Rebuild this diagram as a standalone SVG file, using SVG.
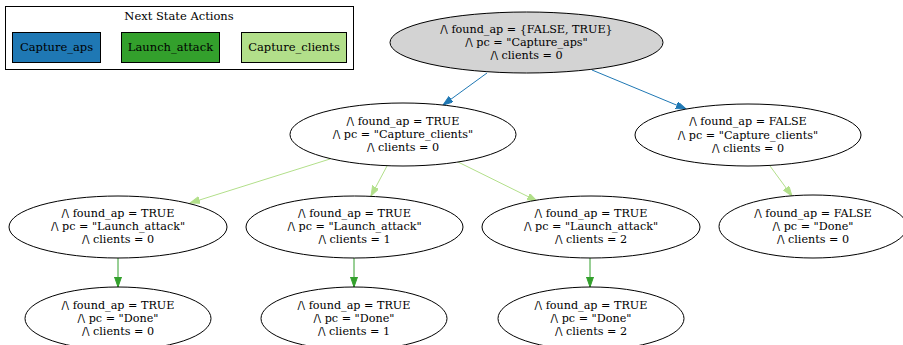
<svg xmlns="http://www.w3.org/2000/svg" width="903" height="345" viewBox="0 0 903 345">
<style>
text{font-family:"DejaVu Serif","Liberation Serif",serif;font-size:11.2px;fill:#000;text-anchor:middle}
.n{fill:#fff;stroke:#000;stroke-width:1}
.e{fill:none;stroke-width:1}
.b{stroke:#1f78b4}.lg{stroke:#b2df8a}.g{stroke:#33a02c}
</style>
<defs>
<marker id="ab" markerUnits="userSpaceOnUse" markerWidth="12" markerHeight="10" refX="10" refY="3.5" orient="auto"><path d="M0,0 L10,3.5 L0,7 z" fill="#1f78b4" stroke="#1f78b4"/></marker>
<marker id="alg" markerUnits="userSpaceOnUse" markerWidth="12" markerHeight="10" refX="10" refY="3.5" orient="auto"><path d="M0,0 L10,3.5 L0,7 z" fill="#b2df8a" stroke="#b2df8a"/></marker>
<marker id="ag" markerUnits="userSpaceOnUse" markerWidth="12" markerHeight="10" refX="10" refY="3.5" orient="auto"><path d="M0,0 L10,3.5 L0,7 z" fill="#33a02c" stroke="#33a02c"/></marker>
</defs>
<rect width="903" height="345" fill="#fff"/>
<g id="legend">
<rect x="5.5" y="6.5" width="348" height="63" fill="#fff" stroke="#000"/>
<text x="179" y="19.5" style="font-size:11.5px">Next State Actions</text>
<rect x="12.5" y="32.5" width="88" height="30" fill="#1f78b4" stroke="#000"/>
<text x="56.5" y="50.5" style="font-size:11.5px">Capture_aps</text>
<rect x="121.5" y="32.5" width="98" height="30" fill="#33a02c" stroke="#000"/>
<text x="170.5" y="50.5" style="font-size:11.5px">Launch_attack</text>
<rect x="241.5" y="32.5" width="105" height="30" fill="#b2df8a" stroke="#000"/>
<text x="294" y="50.5" style="font-size:11.5px">Capture_clients</text>
</g>
<g id="edges">
<line class="e b" x1="487" y1="73" x2="443" y2="105" marker-end="url(#ab)"/>
<line class="e b" x1="592" y1="70" x2="686" y2="109" marker-end="url(#ab)"/>
<line class="e lg" x1="330" y1="159" x2="190" y2="203" marker-end="url(#alg)"/>
<line class="e lg" x1="387" y1="166" x2="371" y2="196" marker-end="url(#alg)"/>
<line class="e lg" x1="458" y1="162" x2="537" y2="201" marker-end="url(#alg)"/>
<line class="e lg" x1="770" y1="166" x2="792" y2="196" marker-end="url(#alg)"/>
<line class="e g" x1="118" y1="258" x2="118" y2="287" marker-end="url(#ag)"/>
<line class="e g" x1="354" y1="258" x2="354" y2="287" marker-end="url(#ag)"/>
<line class="e g" x1="590" y1="258" x2="590" y2="287" marker-end="url(#ag)"/>
</g>
<g id="root">
<ellipse cx="526.5" cy="42.5" rx="136.5" ry="30.5" fill="#d3d3d3" stroke="#000"/>
<text x="526.5" y="32.9">/\ found_ap = {FALSE, TRUE}<tspan x="526.5" dy="13.1">/\ pc = "Capture_aps"</tspan><tspan x="526.5" dy="13.1">/\ clients = 0</tspan></text>
</g>
<g id="n_true_cc">
<ellipse class="n" cx="403" cy="134.5" rx="113" ry="31.5"/>
<text x="403" y="125.1">/\ found_ap = TRUE<tspan x="403" dy="13.1">/\ pc = "Capture_clients"</tspan><tspan x="403" dy="13.1">/\ clients = 0</tspan></text>
</g>
<g id="n_false_cc">
<ellipse class="n" cx="748" cy="135" rx="113" ry="31"/>
<text x="748" y="125.4">/\ found_ap = FALSE<tspan x="748" dy="13.1">/\ pc = "Capture_clients"</tspan><tspan x="748" dy="13.1">/\ clients = 0</tspan></text>
</g>
<g id="n_false_done">
<ellipse class="n" cx="813" cy="226.5" rx="94" ry="31.5"/>
<text x="813" y="216.9">/\ found_ap = FALSE<tspan x="813" dy="13.1">/\ pc = "Done"</tspan><tspan x="813" dy="13.1">/\ clients = 0</tspan></text>
</g>
<g id="n_la0">
<ellipse class="n" cx="118" cy="227" rx="109" ry="31"/>
<text x="118" y="216.9">/\ found_ap = TRUE<tspan x="118" dy="13.1">/\ pc = "Launch_attack"</tspan><tspan x="118" dy="13.1">/\ clients = 0</tspan></text>
</g>
<g id="n_la1">
<ellipse class="n" cx="354.5" cy="227" rx="108.5" ry="31"/>
<text x="354.5" y="216.9">/\ found_ap = TRUE<tspan x="354.5" dy="13.1">/\ pc = "Launch_attack"</tspan><tspan x="354.5" dy="13.1">/\ clients = 1</tspan></text>
</g>
<g id="n_la2">
<ellipse class="n" cx="591" cy="227" rx="109" ry="31"/>
<text x="591" y="216.9">/\ found_ap = TRUE<tspan x="591" dy="13.1">/\ pc = "Launch_attack"</tspan><tspan x="591" dy="13.1">/\ clients = 2</tspan></text>
</g>
<g id="n_d0">
<ellipse class="n" cx="118" cy="318.5" rx="93" ry="31.5"/>
<text x="118" y="308.9">/\ found_ap = TRUE<tspan x="118" dy="13.1">/\ pc = "Done"</tspan><tspan x="118" dy="13.1">/\ clients = 0</tspan></text>
</g>
<g id="n_d1">
<ellipse class="n" cx="354" cy="318.5" rx="93" ry="31.5"/>
<text x="354" y="308.9">/\ found_ap = TRUE<tspan x="354" dy="13.1">/\ pc = "Done"</tspan><tspan x="354" dy="13.1">/\ clients = 1</tspan></text>
</g>
<g id="n_d2">
<ellipse class="n" cx="591" cy="318.5" rx="93" ry="31.5"/>
<text x="591" y="308.9">/\ found_ap = TRUE<tspan x="591" dy="13.1">/\ pc = "Done"</tspan><tspan x="591" dy="13.1">/\ clients = 2</tspan></text>
</g>
</svg>
